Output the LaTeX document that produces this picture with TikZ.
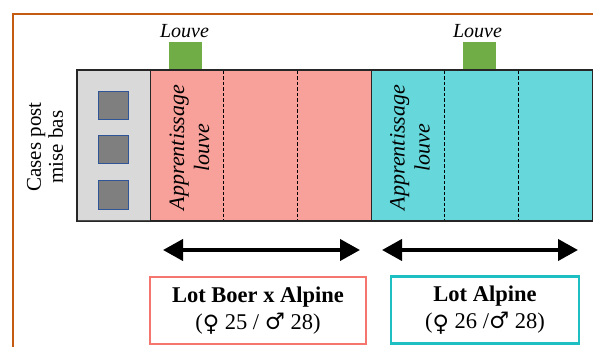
\documentclass[tikz,border=0pt]{standalone}
\usepackage{fontspec}
\setmainfont{Liberation Serif}
\newfontfamily\gsym{DejaVu Serif}
\newcommand{\fem}{{\gsym\raisebox{-0.12em}{♀}}}
\newcommand{\mal}{{\gsym ♂}}
\usetikzlibrary{arrows.meta}
\definecolor{framebrown}{HTML}{C55A11}
\definecolor{pinkfill}{HTML}{F8A09A}
\definecolor{cyanfill}{HTML}{66D8DC}
\definecolor{greenbox}{HTML}{70AD47}
\definecolor{graybox}{HTML}{D9D9D9}
\definecolor{cellfill}{HTML}{7F7F7F}
\definecolor{cellborder}{HTML}{2F5597}
\definecolor{pinkborder}{HTML}{F4766F}
\definecolor{cyanborder}{HTML}{1EBFC3}
\begin{document}
\begin{tikzpicture}[x=1pt,y=-1pt,
  zone/.style={draw=black!85, line width=1.2pt, anchor=north west, minimum height=150pt, inner sep=0pt},
  cell/.style={draw=cellborder, fill=cellfill, line width=1pt, minimum width=30pt, minimum height=28pt, inner sep=0pt},
  feeder/.style={fill=greenbox, minimum width=33pt, minimum height=27pt, inner sep=0pt, anchor=south},
  louvelbl/.style={font=\fontsize{20}{22}\selectfont\itshape, inner sep=0pt, anchor=base},
  divline/.style={black, line width=0.9pt, dash pattern=on 3.5pt off 2pt},
  lotarrow/.style={line width=4pt, {Triangle[length=20pt,width=21pt]}-{Triangle[length=20pt,width=21pt]}},
  lotbox/.style={line width=2.5pt, minimum height=67pt, inner sep=0pt, align=center, font=\fontsize{22.5}{27}\selectfont},
  vertlbl/.style={rotate=90, align=center, inner sep=0pt}
]
\useasboundingbox (0,0) rectangle (593,347);
\draw[framebrown, line width=2pt] (12.5,352) -- (12.5,14) -- (600,14);

% zones
\node[zone, fill=graybox, draw=black!70, minimum width=73pt] (cases) at (77,70) {};
\node[zone, fill=pinkfill, minimum width=221pt] (pink) at (150,70) {};
\node[zone, fill=cyanfill, minimum width=221pt] (cyan) at (371,70) {};
\draw[zone, fill=none] (cases.north west) rectangle (cyan.south east);

\draw[divline] (223.5,70.6) -- (223.5,219.4);
\draw[divline] (297,70.6) -- (297,219.4);
\draw[divline] (444.5,70.6) -- (444.5,219.4);
\draw[divline] (518,70.6) -- (518,219.4);

% cells
\node[cell] (c1) at (113,106) {};
\node[cell] (c2) at (113,150) {};
\node[cell] (c3) at (113,195) {};

% feeders
\node[feeder] (g1) at (185.5,69) {};
\node[feeder] (g2) at (479.5,69) {};
\node[louvelbl] (l1) at (184.5,38) {Louve};
\node[louvelbl] (l2) at (477.5,38) {Louve};

% vertical labels
\node[vertlbl, font=\fontsize{21}{22}\selectfont] (castxt) at (45,147) {Cases post\\mise bas};
\node[vertlbl, font=\fontsize{22}{25}\selectfont\itshape] (app1) at (189.5,147.5) {Apprentissage\\louve};
\node[vertlbl, font=\fontsize{22}{25}\selectfont\itshape] (app2) at (410,147.5) {Apprentissage\\louve};

% arrows
\coordinate (a1l) at (163,250);
\coordinate (a1r) at (360,250);
\coordinate (a2l) at (382,250);
\coordinate (a2r) at (578,250);
\draw[lotarrow] (a1l) -- (a1r);
\draw[lotarrow] (a2l) -- (a2r);

% lot boxes
\node[lotbox, draw=pinkborder, minimum width=216pt] (lot1) at (258,310.5) {\textbf{Lot Boer x Alpine}\\(\fem{} 25 / \mal{} 28)};
\node[lotbox, draw=cyanborder, minimum width=188pt] (lot2) at (485,310) {\textbf{Lot Alpine}\\(\fem{} 26 /\mal{} 28)};
\end{tikzpicture}
\end{document}
